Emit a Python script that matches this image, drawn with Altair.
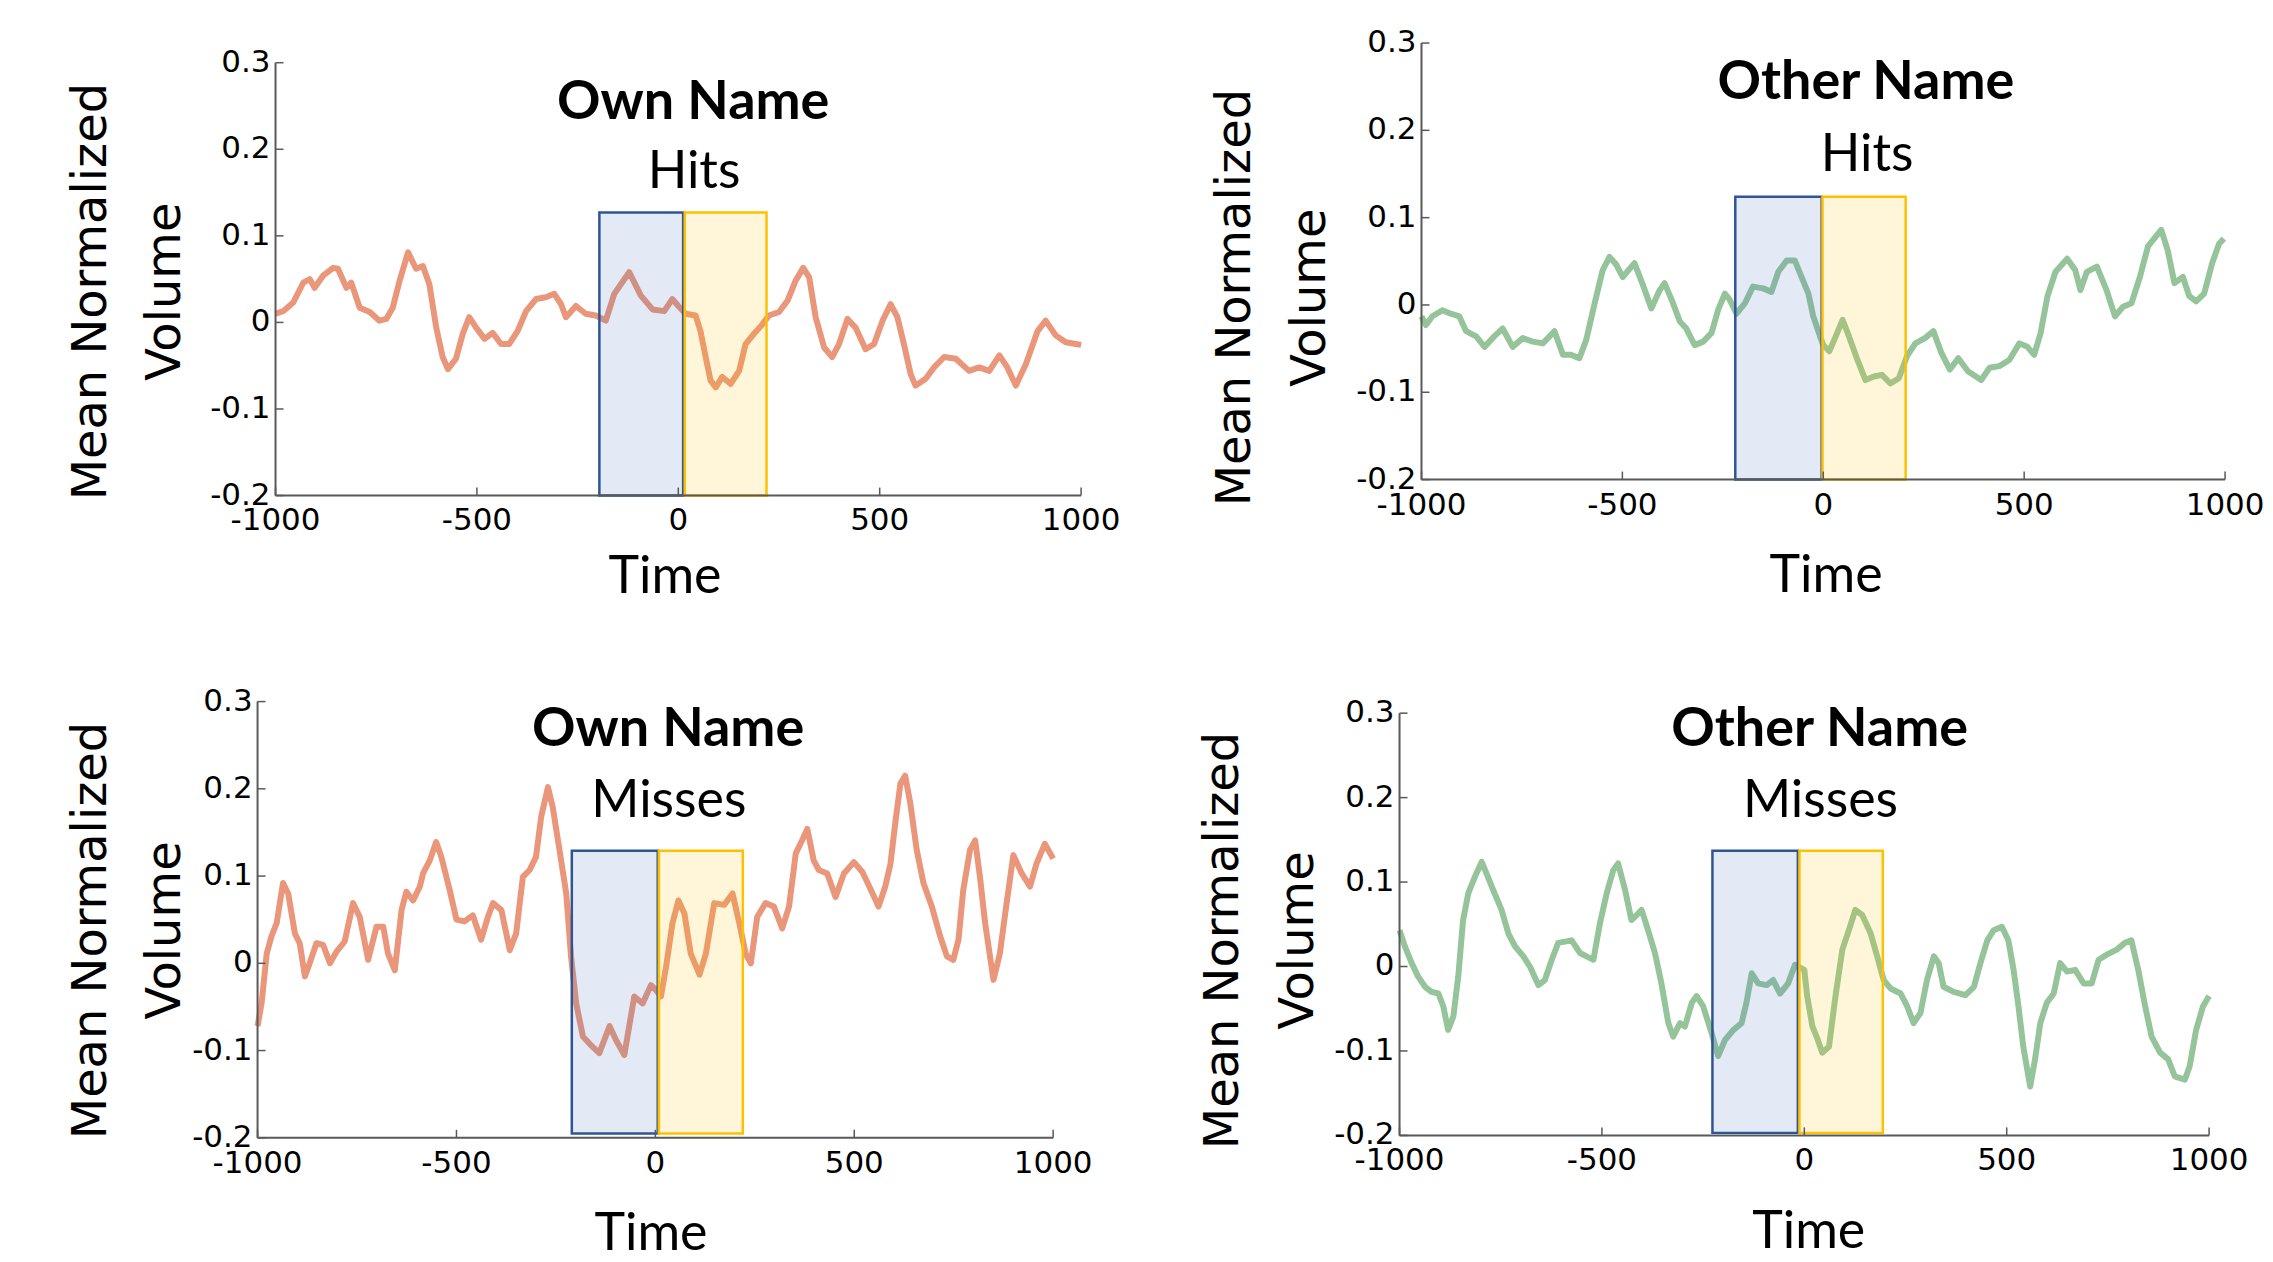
import altair as alt
import pandas as pd

# ---------------- data ----------------
x_ticks = [-1000, -500, 0, 500, 1000]
y_ticks = [-0.2, -0.1, 0, 0.1, 0.2, 0.3]

own_hits_t = [-1000, -981, -956, -931, -915, -903, -882, -857, -845, -824, -812, -791, -766, -742, -725, -709, -692, -671, -651, -634,
              -618, -601, -585, -572, -552, -535, -519, -502, -481, -461, -440, -420, -399, -378, -353, -329, -308, -291, -279, -254,
              -230, -205, -180, -159, -122, -93, -64, -35, -15, 0, 18, 43, 55, 68, 80, 93, 109, 130, 151, 167,
              188, 209, 225, 250, 271, 291, 310, 325, 341, 362, 382, 399, 420, 440, 465, 486, 507, 527, 544, 560,
              577, 589, 614, 635, 660, 689, 722, 747, 772, 797, 817, 838, 863, 892, 912, 937, 962, 987, 1000]
own_hits_v = [0.010, 0.013, 0.023, 0.046, 0.050, 0.040, 0.054, 0.063, 0.062, 0.040, 0.046, 0.017, 0.012, 0.002, 0.004, 0.017, 0.048, 0.081, 0.062, 0.065,
              0.044, -0.006, -0.040, -0.054, -0.042, -0.013, 0.006, -0.006, -0.019, -0.012, -0.025, -0.025, -0.010, 0.013, 0.027, 0.029, 0.033, 0.021, 0.006, 0.019,
              0.010, 0.008, 0.002, 0.033, 0.058, 0.031, 0.015, 0.013, 0.027, 0.019, 0.010, 0.008, -0.010, -0.040, -0.067, -0.075, -0.063, -0.071, -0.056, -0.025,
              -0.013, -0.002, 0.008, 0.012, 0.025, 0.048, 0.063, 0.052, 0.006, -0.029, -0.040, -0.025, 0.004, -0.006, -0.031, -0.025, 0.002, 0.021, 0.006, -0.025,
              -0.060, -0.073, -0.065, -0.052, -0.040, -0.042, -0.056, -0.052, -0.056, -0.038, -0.052, -0.073, -0.048, -0.010, 0.002, -0.015, -0.023, -0.025, -0.026]

other_hits_t = [-1000, -989, -973, -948, -927, -906, -889, -864, -843, -819, -798, -773, -748, -723, -698, -669, -648, -628, -607, -590,
                -569, -549, -532, -515, -499, -470, -449, -428, -407, -395, -374, -357, -341, -320, -299, -278, -262, -245, -233, -216,
                -195, -175, -150, -129, -112, -91, -71, -54, -37, -25, -8, 0, 15, 31, 48, 64, 85, 105, 126, 146,
                167, 188, 208, 229, 253, 274, 294, 315, 336, 360, 393, 414, 438, 463, 488, 508, 525, 541, 558, 578,
                607, 627, 640, 656, 681, 705, 726, 746, 767, 788, 808, 841, 857, 874, 895, 911, 928, 948, 968, 985, 997]
other_hits_v = [-0.013, -0.023, -0.013, -0.006, -0.010, -0.013, -0.030, -0.036, -0.048, -0.036, -0.027, -0.048, -0.038, -0.042, -0.044, -0.030, -0.057, -0.057, -0.061, -0.040,
                0.002, 0.040, 0.055, 0.046, 0.032, 0.048, 0.023, -0.004, 0.017, 0.025, 0.002, -0.019, -0.027, -0.046, -0.042, -0.032, -0.006, 0.013, 0.006, -0.010,
                0.002, 0.021, 0.019, 0.015, 0.038, 0.051, 0.051, 0.032, 0.013, -0.013, -0.036, -0.046, -0.053, -0.036, -0.017, -0.036, -0.063, -0.086, -0.082, -0.080,
                -0.090, -0.084, -0.059, -0.044, -0.038, -0.030, -0.055, -0.074, -0.061, -0.076, -0.086, -0.072, -0.070, -0.063, -0.044, -0.048, -0.057, -0.032, 0.010, 0.038,
                0.053, 0.040, 0.017, 0.038, 0.044, 0.017, -0.013, -0.002, 0.002, 0.032, 0.067, 0.086, 0.063, 0.025, 0.032, 0.010, 0.004, 0.013, 0.048, 0.070, 0.076]

own_miss_t = [-1000, -990, -977, -965, -952, -936, -923, -906, -894, -881, -869, -852, -835, -818, -802, -781, -760, -743, -722, -701,
              -684, -672, -655, -638, -626, -609, -592, -584, -567, -551, -538, -517, -500, -480, -459, -438, -421, -408, -387, -366,
              -350, -333, -316, -300, -287, -270, -258, -241, -224, -212, -199, -182, -166, -141, -115, -99, -78, -53, -32, -11,
              0, 14, 27, 43, 58, 73, 89, 111, 127, 148, 173, 194, 211, 227, 240, 256, 277, 298, 319, 336,
              353, 369, 382, 398, 411, 432, 453, 474, 499, 520, 540, 561, 578, 591, 603, 616, 628, 641, 657, 674,
              695, 716, 733, 749, 762, 774, 791, 804, 816, 829, 850, 866, 883, 900, 921, 942, 958, 979, 1000]
own_miss_v = [-0.072, -0.046, 0.011, 0.031, 0.046, 0.092, 0.080, 0.034, 0.023, -0.015, 0.000, 0.023, 0.021, 0.000, 0.013, 0.025, 0.069, 0.053, 0.004, 0.042,
              0.042, 0.011, -0.008, 0.061, 0.082, 0.072, 0.088, 0.103, 0.118, 0.139, 0.122, 0.084, 0.050, 0.048, 0.055, 0.027, 0.053, 0.069, 0.061, 0.015,
              0.034, 0.099, 0.107, 0.122, 0.168, 0.202, 0.179, 0.130, 0.080, 0.008, -0.046, -0.084, -0.092, -0.103, -0.072, -0.088, -0.105, -0.038, -0.046, -0.025,
              -0.030, -0.038, -0.004, 0.046, 0.072, 0.057, 0.011, -0.013, 0.011, 0.069, 0.067, 0.080, 0.046, 0.011, 0.000, 0.053, 0.069, 0.065, 0.040, 0.065,
              0.126, 0.141, 0.154, 0.118, 0.107, 0.103, 0.076, 0.103, 0.116, 0.105, 0.086, 0.065, 0.088, 0.114, 0.160, 0.206, 0.215, 0.183, 0.130, 0.092,
              0.065, 0.031, 0.008, 0.004, 0.027, 0.084, 0.130, 0.141, 0.099, 0.046, -0.019, 0.011, 0.069, 0.124, 0.103, 0.088, 0.114, 0.137, 0.120]

other_miss_t = [-1000, -987, -970, -954, -937, -921, -904, -892, -880, -867, -855, -843, -830, -814, -797, -785, -769, -748, -731, -715,
                -694, -678, -657, -641, -624, -608, -575, -554, -538, -521, -505, -488, -472, -460, -443, -427, -414, -402, -386, -369,
                -353, -336, -324, -307, -295, -278, -266, -250, -229, -213, -196, -175, -155, -143, -130, -114, -93, -77, -60, -40,
                -23, 0, 7, 20, 32, 44, 61, 77, 94, 110, 126, 143, 164, 180, 196, 213, 238, 254, 270, 287,
                303, 320, 332, 344, 369, 398, 419, 435, 452, 468, 488, 504, 517, 529, 541, 558, 570, 583, 599, 616,
                632, 649, 669, 690, 710, 727, 747, 772, 792, 808, 825, 842, 858, 879, 899, 915, 940, 952, 968, 985, 1000]
other_miss_v = [0.043, 0.024, 0.004, -0.012, -0.024, -0.030, -0.032, -0.047, -0.075, -0.059, -0.012, 0.055, 0.087, 0.106, 0.124, 0.110, 0.091, 0.067, 0.039, 0.024,
                0.012, 0.000, -0.022, -0.016, 0.008, 0.028, 0.031, 0.016, 0.012, 0.008, 0.051, 0.087, 0.114, 0.122, 0.091, 0.055, 0.061, 0.067, 0.043, 0.016,
                -0.020, -0.067, -0.083, -0.067, -0.071, -0.043, -0.035, -0.047, -0.079, -0.106, -0.087, -0.075, -0.067, -0.043, -0.008, -0.020, -0.022, -0.016, -0.032, -0.020,
                0.002, -0.004, -0.035, -0.071, -0.085, -0.102, -0.095, -0.035, 0.020, 0.043, 0.067, 0.061, 0.039, 0.012, -0.016, -0.026, -0.032, -0.047, -0.067, -0.055,
                -0.016, 0.012, 0.004, -0.024, -0.030, -0.034, -0.024, 0.004, 0.031, 0.043, 0.047, 0.031, -0.004, -0.047, -0.095, -0.142, -0.110, -0.067, -0.043, -0.032,
                0.004, -0.006, -0.004, -0.020, -0.020, 0.008, 0.014, 0.020, 0.028, 0.031, -0.004, -0.047, -0.083, -0.102, -0.110, -0.130, -0.134, -0.118, -0.075, -0.047, -0.035]

# highlight windows: [blue start, blue end, yellow start, yellow end, top, bottom]
own_hits_win = [-196, 12, 16, 219, 0.127, -0.2]
other_hits_win = [-219, -4, -2, 205, 0.124, -0.2]
own_miss_win = [-210, 6, 9, 220, 0.129, -0.195]
other_miss_win = [-227, -16, -12, 194, 0.137, -0.197]

titles = ["Own Name", "Other Name", "Own Name", "Other Name"]
subtitles = ["Hits", "Hits", "Misses", "Misses"]

ORANGE = "#E9967A"
GREEN = "#96C49A"
AXIS = "#595959"


def panel(t, v, color, win, title, sub, g):
    W, S, ptop, pbot, ext = g["W"], g["S"], g["ptop"], g["pbot"], g["ext"]
    H = ptop + S + pbot
    k = 0.5 / S                      # data units per pixel (y)
    kx = 2000.0 / W                  # data units per pixel (x)
    lo = -0.2 - pbot * k
    hi = 0.3 + ptop * k
    xs = alt.Scale(domain=[-1000 - ext * kx, 1000], nice=False, zero=False)
    ys = alt.Scale(domain=[lo, hi], nice=False, zero=False)
    yax = alt.Axis(values=y_ticks, labels=False, domain=False, ticks=False, grid=False,
                   title=["Mean Normalized", "Volume"], titleFont="DejaVu Sans",
                   titleFontSize=48, titleFontWeight="normal", titleColor="black", titleLineHeight=75,
                   titleX=g["tx"], titleY=g["ty"], titleBaseline="bottom")
    X = alt.X("t:Q", scale=xs, axis=None)
    Y = alt.Y("v:Q", scale=ys, axis=yax)

    line = alt.Chart(pd.DataFrame({"t": t, "v": v})).mark_line(
        color=color, strokeWidth=6, strokeJoin="round").encode(x=X, y=Y)

    boxes_df = pd.DataFrame({
        "t": [win[0], win[2]], "t2": [win[1], win[3]],
        "v": [win[5], win[5]], "v2": [win[4], win[4]],
        "fill": ["#4472C4", "#FFC000"], "stroke": ["#2F5597", "#FFC000"]})
    boxes = alt.Chart(boxes_df).mark_rect(fillOpacity=0.15, strokeWidth=2.5).encode(
        x=X, x2="t2:Q", y=Y, y2="v2:Q",
        fill=alt.Fill("fill:N", scale=None), stroke=alt.Stroke("stroke:N", scale=None))

    yline = alt.Chart(pd.DataFrame({"t": [-1000], "v": [-0.2], "v2": [0.3]})).mark_rule(
        color=AXIS, strokeWidth=2).encode(x=X, y=Y, y2="v2:Q")
    xline = alt.Chart(pd.DataFrame({"t": [-1000], "t2": [1000], "v": [-0.2]})).mark_rule(
        color=AXIS, strokeWidth=2).encode(x=X, x2="t2:Q", y=Y)
    xt = alt.Chart(pd.DataFrame({"t": x_ticks, "v": [-0.2] * len(x_ticks),
                                 "v2": [-0.2 + 8 * k] * len(x_ticks)})).mark_rule(
        color=AXIS, strokeWidth=1.5).encode(x=X, y=Y, y2="v2:Q")
    yt = alt.Chart(pd.DataFrame({"t": [-1000] * len(y_ticks), "t2": [-1000 + 8 * kx] * len(y_ticks),
                                 "v": y_ticks})).mark_rule(
        color=AXIS, strokeWidth=1.5).encode(x=X, x2="t2:Q", y=Y)

    xlab = alt.Chart(pd.DataFrame({"t": x_ticks, "v": [-0.2 - 35 * k] * len(x_ticks),
                                   "label": [str(i) for i in x_ticks]})).mark_text(
        font="DejaVu Sans", fontSize=31, color="black", align="center", baseline="alphabetic").encode(
        x=X, y=Y, text="label:N")
    ylab = alt.Chart(pd.DataFrame({"t": [-1000 - 5 * kx] * len(y_ticks), "v": y_ticks,
                                   "label": [str(i) for i in y_ticks]})).mark_text(
        font="DejaVu Sans", fontSize=31, color="black", align="right", baseline="middle").encode(
        x=X, y=Y, text="label:N")
    tlab = alt.Chart(pd.DataFrame({"t": [g["timex"]], "v": [-0.2 - g["timey"] * k], "label": ["Time"]})).mark_text(
        font="Lato", fontSize=52, color="black", align="center", baseline="alphabetic", clip=True).encode(
        x=X, y=Y, text="label:N")
    head = alt.Chart(pd.DataFrame({"t": [g["hx"]], "v": [g["hy"]], "label": [title]})).mark_text(
        font="Lato", fontSize=54, fontWeight="bold", color="black", align="center", baseline="alphabetic").encode(
        x=X, y=Y, text="label:N")
    subl = alt.Chart(pd.DataFrame({"t": [g["sx"]], "v": [g["sy"]], "label": [sub]})).mark_text(
        font="Lato", fontSize=52, color="black", align="center", baseline="alphabetic").encode(
        x=X, y=Y, text="label:N")

    return alt.layer(line, boxes, yline, xline, xt, yt, xlab, ylab, tlab, head, subl).properties(
        width=W + ext, height=H)


g1 = dict(W=807, S=433.6, ptop=35.7, pbot=100.7, ext=18, tx=-142.7, ty=264.5, timex=-33, timey=97.7,
          hx=37, hy=0.2354, sx=39, sy=0.1547)
g2 = dict(W=805, S=437.3, ptop=16.0, pbot=116.7, ext=0, tx=-162.3, ty=270.5, timex=7, timey=112.7,
          hx=106, hy=0.2363, sx=109, sy=0.1536)
g3 = dict(W=797, S=437.0, ptop=15.7, pbot=116.3, ext=0, tx=-142.7, ty=244.5, timex=-11, timey=112.0,
          hx=32, hy=0.249, sx=34, sy=0.168)
g4 = dict(W=811, S=423.0, ptop=27.3, pbot=118.7, ext=0, tx=-152.6, ty=254.5, timex=11, timey=112.5,
          hx=38, hy=0.261, sx=40, sy=0.1774)

p1 = panel(own_hits_t, own_hits_v, ORANGE, own_hits_win, titles[0], subtitles[0], g1)
p2 = panel(other_hits_t, other_hits_v, GREEN, other_hits_win, titles[1], subtitles[1], g2)
p3 = panel(own_miss_t, own_miss_v, ORANGE, own_miss_win, titles[2], subtitles[2], g3)
p4 = panel(other_miss_t, other_miss_v, GREEN, other_miss_win, titles[3], subtitles[3], g4)

row1 = alt.hconcat(p1, p2, spacing=90)
row2 = alt.hconcat(p3, p4, spacing=106)

chart = alt.vconcat(row1, row2, spacing=89).properties(
    padding={"left": 59, "top": 17, "right": 0, "bottom": 0},
    background="white",
).configure_view(stroke=None)

chart.save("out.html", embed_options={"renderer": "svg", "actions": False})
